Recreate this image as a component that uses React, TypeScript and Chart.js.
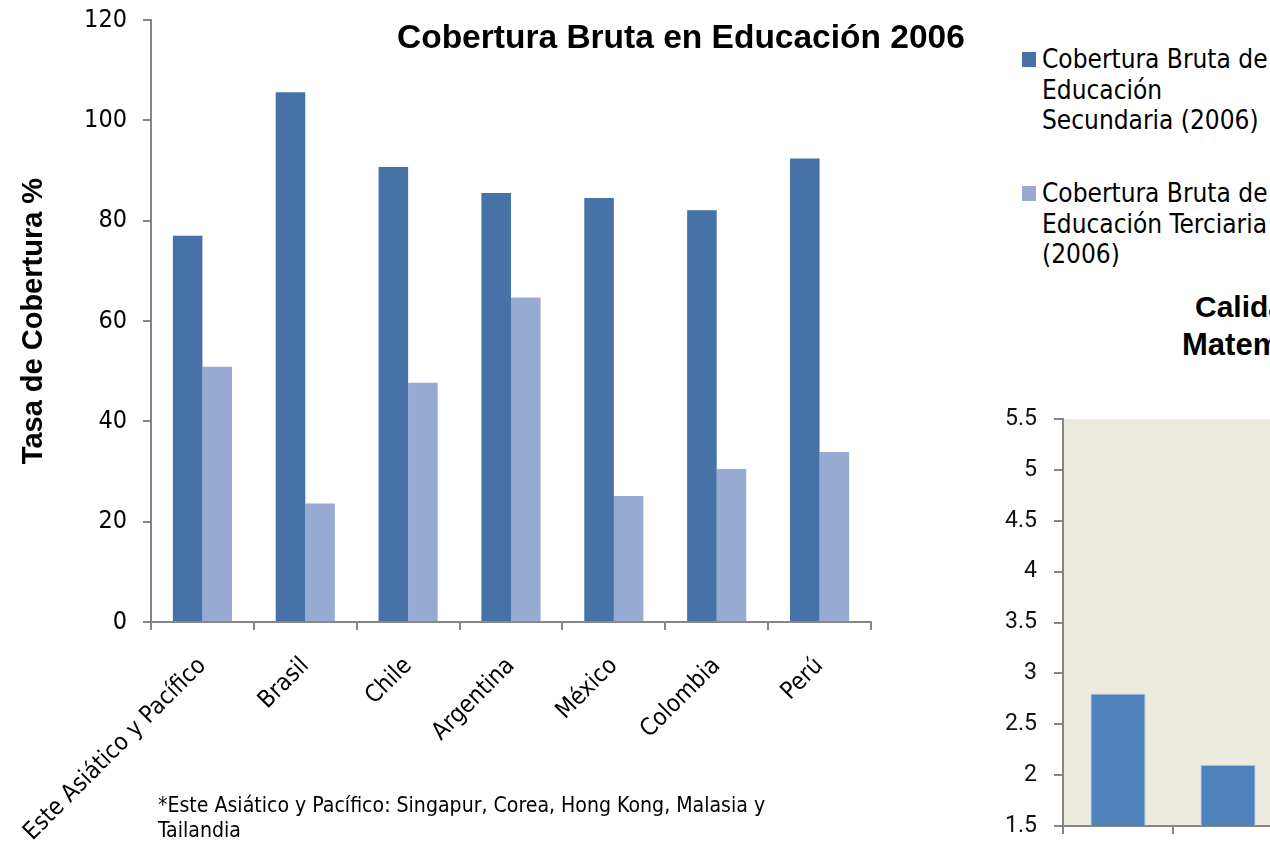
import React, { useEffect, useRef } from "react";
import { Chart, registerables } from "chart.js";

Chart.register(...registerables);

const categories = [
  "Este Asiático y Pacífico",
  "Brasil",
  "Chile",
  "Argentina",
  "México",
  "Colombia",
  "Perú",
];
const secundaria = [77.0, 105.6, 90.7, 85.5, 84.5, 82.1, 92.4];
const terciaria = [50.9, 23.6, 47.7, 64.7, 25.1, 30.5, 33.9];
const seriesNames = [
  "Cobertura Bruta de Educación Secundaria (2006)",
  "Cobertura Bruta de Educación Terciaria (2006)",
];
const mainTitle = "Cobertura Bruta en Educación 2006";
const yAxisTitle = "Tasa de Cobertura %";
const footnoteLines = [
  "*Este Asiático y Pacífico: Singapur, Corea, Hong Kong, Malasia y",
  "Tailandia",
];

const qualityCategories = ["1", "2"];
const qualityValues = [2.8, 2.1];
const qualityTitleLines = ["Calidad de la Educación", "Matemáticas"];

const REG = '"DejaVu Sans Condensed", "DejaVu Sans", sans-serif';
const BOLD = '"Liberation Sans", Arial, sans-serif';
const AXIS = "#868686";
const DARK = "#4672A8";
const LIGHT = "#96AAD2";

const plotBg = {
  id: "plotBg",
  beforeDraw(chart: any, _args: any, opts: any) {
    if (!opts || !opts.color) return;
    const { ctx, chartArea } = chart;
    ctx.save();
    ctx.fillStyle = opts.color;
    ctx.fillRect(chartArea.left, chartArea.top, chartArea.right - chartArea.left, chartArea.bottom - chartArea.top);
    ctx.restore();
  },
};

const fixY = (w: number) => (s: any) => {
  s.width = w;
  s.paddingTop = 0;
  s.paddingBottom = 0;
};
const fixX = (h: number) => (s: any) => {
  s.height = h;
  s.paddingLeft = 0;
  s.paddingRight = 0;
};

function MainChart() {
  const ref = useRef<HTMLCanvasElement | null>(null);
  useEffect(() => {
    if (!ref.current) return;
    const chart = new Chart(ref.current, {
      type: "bar",
      data: {
        labels: categories,
        datasets: [
          { label: seriesNames[0], data: secundaria, backgroundColor: DARK, borderWidth: 0 },
          { label: seriesNames[1], data: terciaria, backgroundColor: LIGHT, borderWidth: 0 },
        ],
      },
      options: {
        animation: false,
        responsive: true,
        maintainAspectRatio: false,
        layout: { padding: { left: 0, top: 20, right: 29, bottom: 0 } },
        plugins: { legend: { display: false }, title: { display: false }, tooltip: { enabled: false } },
        datasets: { bar: { barPercentage: 1, categoryPercentage: 0.575 } },
        scales: {
          x: {
            afterFit: fixX(233),
            grid: { display: true, offset: true, drawOnChartArea: false, drawTicks: true, tickLength: 8, color: AXIS, lineWidth: 2 },
            border: { display: true, color: AXIS, width: 2 },
            ticks: {
              autoSkip: false,
              minRotation: 45,
              maxRotation: 45,
              padding: 22,
              color: "#000",
              font: { family: REG, size: 24 },
            },
          },
          y: {
            min: 0,
            max: 120,
            afterFit: fixY(151),
            grid: { display: true, drawOnChartArea: false, drawTicks: true, tickLength: 8, color: AXIS, lineWidth: 2 },
            border: { display: true, color: AXIS, width: 2 },
            ticks: { stepSize: 20, padding: 16, color: "#000", font: { family: REG, size: 25 } },
            title: {
              display: true,
              text: yAxisTitle,
              color: "#000",
              font: { family: BOLD, size: 29, weight: "bold" },
              padding: { top: 17, bottom: 0 },
            },
          },
        },
      },
    });
    return () => chart.destroy();
  }, []);
  return <canvas ref={ref} />;
}

function QualityChart() {
  const ref = useRef<HTMLCanvasElement | null>(null);
  useEffect(() => {
    if (!ref.current) return;
    const chart = new Chart(ref.current, {
      type: "bar",
      data: {
        labels: qualityCategories,
        datasets: [
          { data: qualityValues, backgroundColor: "#4F81BD", borderColor: "#A7BEDD", borderWidth: 1 },
        ],
      },
      plugins: [plotBg],
      options: {
        animation: false,
        responsive: true,
        maintainAspectRatio: false,
        layout: { padding: { left: 0, top: 39, right: 17, bottom: 0 } },
        plugins: { legend: { display: false }, title: { display: false }, tooltip: { enabled: false }, plotBg: { color: "#EDEAE0" } } as any,
        datasets: { bar: { barPercentage: 1, categoryPercentage: 0.5 } },
        scales: {
          x: {
            afterFit: fixX(54),
            grid: { display: true, offset: true, drawOnChartArea: false, drawTicks: true, tickLength: 8, color: AXIS, lineWidth: 2 },
            border: { display: true, color: AXIS, width: 2 },
            ticks: { display: false },
          },
          y: {
            min: 1.5,
            max: 5.5,
            afterFit: fixY(123),
            grid: { display: true, drawOnChartArea: false, drawTicks: true, tickLength: 9, color: AXIS, lineWidth: 2 },
            border: { display: true, color: AXIS, width: 2 },
            ticks: {
              stepSize: 0.5,
              padding: 17,
              color: "#111",
              font: { family: "Roboto, sans-serif", size: 23 },
              callback: (v: any) => String(v),
            },
          },
        },
      },
    });
    return () => chart.destroy();
  }, []);
  return <canvas ref={ref} />;
}

const abs = (l: number, t: number, extra: any = {}) => ({ position: "absolute" as const, left: l, top: t, whiteSpace: "nowrap" as const, ...extra });

export default function App() {
  return (
    <div style={{ position: "fixed", left: 0, top: 0, width: 1270, height: 855, overflow: "hidden", background: "#fff" }}>
      <div style={abs(0, 0, { width: 900, height: 855 })}>
        <MainChart />
      </div>
      <div style={abs(940, 380, { width: 360, height: 500 })}>
        <QualityChart />
      </div>
      <div style={abs(397, 20, { fontFamily: BOLD, fontWeight: "bold", fontSize: 33.5, lineHeight: 1, color: "#000" })}>
        {mainTitle}
      </div>
      <div style={abs(158, 792, { fontFamily: REG, fontSize: 21.1, lineHeight: "25px", color: "#000" })}>
        {footnoteLines.map((l, i) => (<div key={i}>{l}</div>))}
      </div>
      <div style={abs(1022, 52, { width: 14, height: 15, background: DARK })} />
      <div style={abs(1042, 44, { fontFamily: REG, fontSize: 26, lineHeight: "30.5px", color: "#000" })}>
        <div>Cobertura Bruta de</div>
        <div>Educación</div>
        <div>Secundaria (2006)</div>
      </div>
      <div style={abs(1022, 186, { width: 14, height: 15, background: LIGHT })} />
      <div style={abs(1042, 178, { fontFamily: REG, fontSize: 26, lineHeight: "30.5px", color: "#000" })}>
        <div>Cobertura Bruta de</div>
        <div>Educación Terciaria</div>
        <div>(2006)</div>
      </div>
      <div style={abs(1195, 288, { fontFamily: BOLD, fontWeight: "bold", fontSize: 30, lineHeight: "38px", color: "#000" })}>
        {qualityTitleLines[0]}
      </div>
      <div style={abs(1182, 326, { fontFamily: BOLD, fontWeight: "bold", fontSize: 31, lineHeight: "38px", color: "#000" })}>
        {qualityTitleLines[1]}
      </div>
    </div>
  );
}
